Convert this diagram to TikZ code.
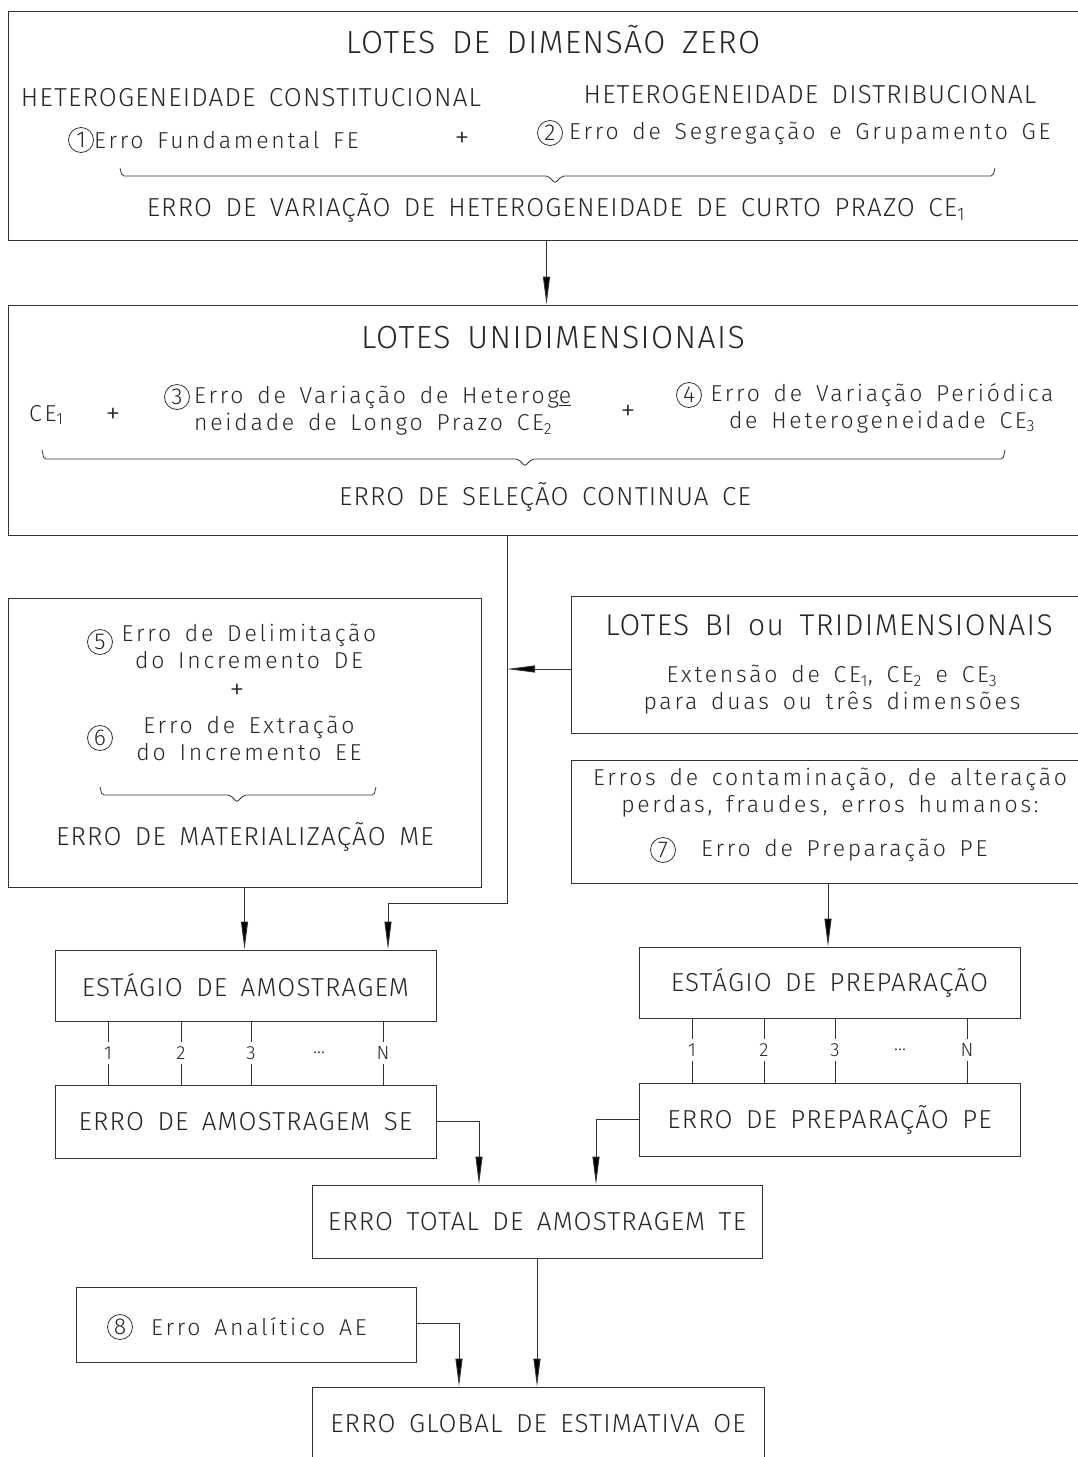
\documentclass[tikz,border=0pt]{standalone}
\usepackage{fontspec}
\setmainfont{Fira Sans Light}[LetterSpace=8,WordSpace=1.6]
\newfontfamily\capsfont{Fira Sans Light}[LetterSpace=4.5,WordSpace=1.6]
\newfontfamily\lowfont{Fira Sans Light}[LetterSpace=12,WordSpace=1.5]
\usetikzlibrary{arrows.meta,calc}
\begin{document}
\begin{tikzpicture}[x=1pt,y=-1pt,
  box/.style={draw=black!80,line width=0.9pt,rectangle,inner sep=0pt},
  txt/.style={inner sep=1pt,text=black!85},
  ttl/.style={txt,font=\capsfont\fontsize{32}{38}\selectfont},
  caps/.style={txt,font=\capsfont\fontsize{26}{30}\selectfont},
  low/.style={txt,font=\lowfont\fontsize{23}{27}\selectfont,align=center},
  pls/.style={txt,font=\lowfont\fontsize{30}{30}\selectfont},
  num/.style={txt,font=\lowfont\fontsize{19}{21}\selectfont,inner sep=4pt},
  circ/.style={circle,draw=black!80,line width=0.8pt,minimum size=25pt,inner sep=0pt,text=black!85,font=\lowfont\fontsize{23}{24}\selectfont},
  ln/.style={draw=black!80,line width=0.9pt},
  arr/.style={ln,-{Triangle[length=28pt,width=7pt,fill=black]}},
  brc/.style={draw=black!80,line width=0.8pt,rounded corners=2pt}
]
\useasboundingbox (0,0) rectangle (1077,1457);

% ---------- boxes ----------
\node[box,minimum width=1077pt,minimum height=229pt] (b1) at (546.5,125.5) {};
\node[box,minimum width=1077pt,minimum height=230pt] (b2) at (546.5,420) {};
\node[box,minimum width=473pt,minimum height=289pt] (b3) at (244.5,742.5) {};
\node[box,minimum width=514pt,minimum height=137pt] (b4) at (828,664.5) {};
\node[box,minimum width=514pt,minimum height=123pt] (b5) at (828,821.5) {};
\node[box,minimum width=381pt,minimum height=71pt] (b6) at (245.5,985.5) {};
\node[box,minimum width=381pt,minimum height=71pt] (b7) at (829.5,982.5) {};
\node[box,minimum width=381pt,minimum height=73pt] (b8) at (245.5,1121.5) {};
\node[box,minimum width=381pt,minimum height=73pt] (b9) at (829.5,1119.5) {};
\node[box,minimum width=450pt,minimum height=73pt] (b10) at (537,1221.5) {};
\node[box,minimum width=340pt,minimum height=75pt] (b11) at (246,1324.5) {};
\node[box,minimum width=452pt,minimum height=90pt] (b12) at (538,1432) {};

% ---------- box 1 texts ----------
\node[ttl] (t1) at (553,40) {LOTES DE DIMENSÃO ZERO};
\node[caps] (hc) at (251,98) {HETEROGENEIDADE CONSTITUCIONAL};
\node[caps] (hd) at (810,95) {HETEROGENEIDADE DISTRIBUCIONAL};
\node[circ] (c1) at (81,140) {1};
\node[low,anchor=west] (fe) at (93,140) {Erro Fundamental FE};
\node[pls] (p1) at (462,140) {+};
\node[circ] (c2) at (550,133) {2};
\node[low,anchor=west] (ge) at (568,133) {Erro de Segregação e Grupamento GE};
\draw[brc] (120,168) -- (122,176) -- (548,176) -- (555,183) -- (562,176) -- (993,176) -- (995,168);
\node[caps] (ce1t) at (556,208) {ERRO DE VARIAÇÃO DE HETEROGENEIDADE DE CURTO PRAZO CE\textsubscript{1}};

% ---------- box 2 texts ----------
\node[ttl] (t2) at (553,338) {LOTES UNIDIMENSIONAIS};
\node[low,anchor=west] (ce1) at (28,415) {CE\textsubscript{1}};
\node[pls] (p2) at (113,416) {+};
\node[circ] (c3) at (177,397) {3};
\node[low,anchor=west,align=left] (ce2) at (193,411) {Erro de Variação de Heterog\underline{e}\\neidade de Longo Prazo CE\textsubscript{2}};
\node[pls] (p3) at (628,413) {+};
\node[circ] (c4) at (689,395) {4};
\node[low] (ce3) at (882,408) {Erro de Variação Periódica\\de Heterogeneidade CE\textsubscript{3}};
\draw[brc] (42,450) -- (44,459) -- (518,459) -- (525,466) -- (532,459) -- (1003,459) -- (1005,450);
\node[caps] (ce) at (545,497) {ERRO DE SELEÇÃO CONTINUA CE};

% ---------- box 3 texts ----------
\node[circ] (c5) at (100,642) {5};
\node[low] (de) at (249,646) {Erro de Delimitação\\do Incremento DE};
\node[pls] (p4) at (237,692) {+};
\node[circ] (c6) at (100,738) {6};
\node[low] (ee) at (249,738) {Erro de Extração\\do Incremento EE};
\draw[brc] (100,787) -- (102,795) -- (230,795) -- (237,802) -- (244,795) -- (374,795) -- (376,787);
\node[caps] (me) at (245,837) {ERRO DE MATERIALIZAÇÃO ME};

% ---------- box 4 / 5 texts ----------
\node[ttl,font=\capsfont\fontsize{30}{36}\selectfont] (t4) at (829,625) {LOTES BI ou TRIDIMENSIONAIS};
\node[low] (ext) at (832,690) {Extensão de CE\textsubscript{1}, CE\textsubscript{2} e CE\textsubscript{3}\\para duas ou três dimensões};
\node[low] (cont) at (830,793) {Erros de contaminação, de alteração\\perdas, fraudes, erros humanos:};
\node[circ] (c7) at (663,850) {7};
\node[low,anchor=west] (pe7) at (700,850) {Erro de Preparação PE};

% ---------- small box texts ----------
\node[caps] at (b6) {ESTÁGIO DE AMOSTRAGEM};
\node[caps] at (b7) {ESTÁGIO DE PREPARAÇÃO};
\node[caps] at (b8) {ERRO DE AMOSTRAGEM SE};
\node[caps] at (b9) {ERRO DE PREPARAÇÃO PE};
\node[caps] at (b10) {ERRO TOTAL DE AMOSTRAGEM TE};
\node[circ] (c8) at (120,1327) {8};
\node[low,anchor=west] (ae) at (150,1327) {Erro Analítico AE};
\node[caps] at (538,1424) {ERRO GLOBAL DE ESTIMATIVA OE};

% ---------- connectors ----------
\draw[arr] (b1.south) -- (b2.north);
\coordinate (j1) at (507,903);
\coordinate (j2) at (388,903);
\draw[arr] (b2.south -| j1) -- (j1) -- (j2) -- (j2 |- b6.north);
\draw[arr] (b4.west |- 0,669) -- (j1 |- 0,669);
\draw[arr] (b3.south) -- (b3.south |- b6.north);
\draw[arr] (b5.south) -- (b5.south |- b7.north);

% stubs
\foreach \x/\l/\n in {108/1/a1,181/2/a2,251/3/a3,383/N/a4}{
  \node[num] (\n) at (\x,1053) {\l};
  \draw[ln] (\n) -- (\n |- b6.south);
  \draw[ln] (\n) -- (\n |- b8.north);
}
\node[num] (ad) at (319,1053) {\dots};
\foreach \x/\l/\n in {692/1/q1,764/2/q2,835/3/q3,967/N/q4}{
  \node[num] (\n) at (\x,1050) {\l};
  \draw[ln] (\n) -- (\n |- b7.south);
  \draw[ln] (\n) -- (\n |- b9.north);
}
\node[num] (qd) at (900,1050) {\dots};

\coordinate (k1) at (479,1121);
\coordinate (k2) at (596,1119);
\draw[arr] (b8.east |- k1) -- (k1) -- (k1 |- b10.north);
\draw[arr] (b9.west |- k2) -- (k2) -- (k2 |- b10.north);
\draw[arr] (b10.south) -- (b10.south |- b12.north);
\coordinate (k3) at (459,1323);
\draw[arr] (b11.east |- k3) -- (k3) -- (k3 |- b12.north);
\end{tikzpicture}
\end{document}
